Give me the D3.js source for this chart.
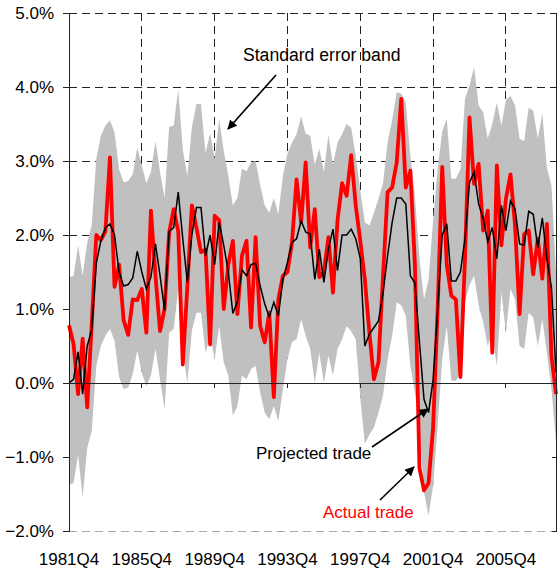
<!DOCTYPE html>
<html>
<head>
<meta charset="utf-8">
<script src="https://cdn.jsdelivr.net/npm/d3@7"></script>
<style>
  body { margin: 0; background: #fff; }
  svg { display: block; font-family: Arial, "Liberation Sans", sans-serif; }
</style>
</head>
<body>
<div id="viz"></div>
<script>
// Quarters 1981Q4 .. 2008Q3 (108 categories)
const quarters = [];
for (let y = 1981, q = 4; quarters.length < 108; ) {
    quarters.push(y + 'Q' + q);
    q++; if (q > 4) { q = 1; y++; }
}

const tickLabels = ['1981Q4', '1985Q4', '1989Q4', '1993Q4', '1997Q4', '2001Q4', '2005Q4'];
const yTicks = [-2, -1, 0, 1, 2, 3, 4, 5];

// Actual trade (red)
const actual = [0.78, 0.53, -0.15, 0.6, -0.33, 0.8, 2.0, 1.93, 2.05, 3.05,
    1.3, 1.6, 0.85, 0.65, 1.13, 1.12, 1.27, 0.68, 2.33, 1.45,
    0.7, 1.0, 2.03, 2.35, 2.05, 0.25, 1.3, 2.4, 2.1, 1.77,
    1.8, 0.52, 2.26, 2.2, 1.0, 1.6, 1.92, 0.93, 1.72, 1.92,
    0.75, 1.97, 0.77, 0.55, 0.95, -0.19, 1.13, 1.45, 1.5, 1.9,
    2.75, 2.17, 2.98, 1.83, 2.35, 1.43, 1.5, 1.97, 1.22, 2.2,
    2.7, 2.53, 3.08, 2.4, 1.92, 1.4, 0.68, 0.05, 0.28, 1.45,
    2.58, 2.64, 2.98, 3.84, 2.64, 2.87, 1.6, -1.15, -1.45, -1.35,
    -0.6, 1.0, 2.92, 1.6, 1.18, 1.13, 0.08, 1.68, 3.59, 2.69,
    2.96, 2.06, 2.33, 0.41, 2.94, 1.86, 2.49, 2.82, 2.13, 0.93,
    2.01, 2.06, 1.47, 1.95, 1.41, 2.15, 0.37, -0.15];

// Projected trade (black)
const projected = [0.0, 0.05, 0.42, -0.15, 0.5, 0.72, 1.62, 1.92, 2.1, 2.15,
    2.0, 1.5, 1.31, 1.33, 1.42, 1.78, 1.5, 1.27, 1.43, 1.88,
    1.45, 0.98, 2.05, 2.1, 2.58, 1.95, 1.36, 2.0, 2.37, 2.37,
    1.72, 2.0, 1.6, 2.17, 1.86, 1.5, 0.94, 1.1, 1.53, 1.45,
    1.6, 1.62, 1.31, 1.07, 0.89, 1.09, 0.91, 1.4, 1.63, 1.9,
    1.95, 2.19, 2.04, 2.01, 1.4, 1.81, 1.36, 1.81, 2.08, 1.52,
    2.0, 2.0, 2.08, 1.95, 1.68, 0.5, 0.66, 0.75, 0.84, 1.22,
    1.72, 2.17, 2.5, 2.5, 2.42, 1.45, 1.35, 0.55, -0.22, -0.4,
    0.05, 1.0, 2.0, 2.15, 1.38, 1.38, 1.5, 1.95, 2.71, 2.85,
    2.42, 2.22, 1.91, 2.1, 1.68, 2.4, 2.06, 2.46, 2.35, 1.88,
    1.86, 2.32, 2.28, 1.83, 2.23, 1.68, 1.29, 0.14];

// Standard error band, upper edge
const bandUpper = [1.43, 1.45, 1.86, 1.45, 1.9, 2.13, 3.03, 3.34, 3.48, 3.55,
    3.39, 2.89, 2.71, 2.73, 2.82, 3.18, 2.94, 2.7, 2.85, 3.27,
    2.85, 2.5, 3.46, 3.48, 3.97, 3.16, 2.8, 3.46, 3.77, 3.77,
    3.1, 3.38, 3.03, 3.56, 3.14, 2.8, 2.4, 2.5, 2.9, 2.86,
    2.98, 3.0, 2.68, 2.4, 2.3, 2.5, 2.28, 2.8, 3.1, 3.25,
    3.36, 3.6, 3.37, 3.34, 2.95, 3.17, 2.85, 3.35, 2.95, 3.25,
    3.36, 3.5, 3.45, 3.07, 2.6, 2.17, 2.13, 2.3, 2.49, 2.7,
    3.25, 3.55, 3.93, 3.91, 3.79, 3.07, 2.53, 1.68, 1.13, 1.4,
    2.2, 2.9, 3.4, 3.57, 2.76, 2.76, 2.89, 3.84, 4.02, 4.27,
    3.75, 3.66, 3.3, 3.5, 3.79, 3.48, 3.82, 3.88, 3.75, 3.3,
    3.27, 3.72, 3.68, 3.3, 3.64, 2.91, 2.67, 1.5];

// Standard error band, lower edge
const bandLower = [-1.38, -1.35, -0.97, -1.54, -0.88, -0.65, 0.23, 0.5, 0.64, 0.73,
    0.57, 0.08, -0.08, -0.06, 0.12, 0.44, 0.14, -0.04, 0.1, 0.46,
    0.05, -0.35, 0.68, 0.73, 1.27, 0.46, 0.0, 0.71, 0.95, 0.95,
    0.41, 0.64, 0.32, 0.77, 0.28, 0.1, -0.44, -0.31, 0.1, 0.05,
    0.19, 0.23, -0.13, -0.4, -0.49, -0.31, -0.51, -0.08, 0.32, 0.55,
    0.59, 0.86, 0.64, 0.46, 0.0, 0.41, 0.0, 0.37, 0.1, 0.46,
    0.59, 0.77, 0.7, 0.59, -0.2, -0.82, -0.7, -0.6, -0.4, -0.17,
    0.32, 0.64, 1.09, 1.05, 0.91, 0.23, -0.13, -0.6, -1.48, -1.79,
    -1.39, -0.58, 0.32, 0.77, 0.03, 0.03, 0.14, 1.09, 1.32, 1.45,
    1.05, 0.82, 0.5, 0.68, 0.23, 1.23, 0.68, 1.27, 1.13, 0.5,
    0.46, 0.95, 0.89, 0.5, 0.86, 0.41, -0.08, -0.8];

const W = 560, H = 568;
const margin = {top: 13, right: 4, bottom: 37, left: 69};

const svg = d3.select('#viz').append('svg')
    .attr('width', W).attr('height', H);

const x = d3.scalePoint()
    .domain(quarters)
    .range([margin.left, W - margin.right]);

const y = d3.scaleLinear()
    .domain([-2, 5])
    .range([H - margin.bottom, margin.top]);

const x0 = x.range()[0], x1 = x.range()[1];

//Gridlines
svg.append('g').attr('shape-rendering', 'crispEdges')
    .selectAll('line')
    .data(yTicks.filter(d => d > 0))
    .enter().append('line')
    .attr('x1', x0).attr('x2', x1)
    .attr('y1', d => y(d)).attr('y2', d => y(d))
    .attr('stroke', '#222').attr('stroke-dasharray', '8,5');

svg.append('g').attr('shape-rendering', 'crispEdges')
    .selectAll('line')
    .data(tickLabels.slice(1))
    .enter().append('line')
    .attr('x1', d => x(d)).attr('x2', d => x(d))
    .attr('y1', y(5)).attr('y2', y(-2))
    .attr('stroke', '#222').attr('stroke-dasharray', '8,5');

//Band: white underneath the lower edge hides the grid, grey between edges
svg.append('path')
    .datum(quarters)
    .attr('fill', '#fff')
    .attr('d', d3.area()
        .x(d => x(d))
        .y0(y(-2))
        .y1((d, i) => y(bandLower[i])));

svg.append('path')
    .datum(quarters)
    .attr('fill', '#c0c0c0')
    .attr('d', d3.area()
        .x(d => x(d))
        .y0((d, i) => y(bandLower[i]))
        .y1((d, i) => y(bandUpper[i])));

svg.append('line')
    .attr('shape-rendering', 'crispEdges')
    .attr('x1', x0).attr('x2', x1)
    .attr('y1', y(-2)).attr('y2', y(-2))
    .attr('stroke', '#aaa').attr('stroke-dasharray', '8,5');

//Lines
const line = arr => d3.line()
    .x(d => x(d))
    .y((d, i) => y(arr[i]));

svg.append('path')
    .datum(quarters)
    .attr('fill', 'none')
    .attr('stroke', '#ff0000')
    .attr('stroke-width', 3.8)
    .attr('stroke-linejoin', 'round')
    .attr('d', line(actual));

svg.append('path')
    .datum(quarters)
    .attr('fill', 'none')
    .attr('stroke', '#000')
    .attr('stroke-width', 1.5)
    .attr('d', line(projected));

//Axes
svg.append('line')
    .attr('shape-rendering', 'crispEdges')
    .attr('x1', x0).attr('x2', x1)
    .attr('y1', y(0)).attr('y2', y(0))
    .attr('stroke', '#222');

svg.append('g').attr('shape-rendering', 'crispEdges')
    .selectAll('line')
    .data(tickLabels)
    .enter().append('line')
    .attr('x1', d => x(d)).attr('x2', d => x(d))
    .attr('y1', y(0)).attr('y2', y(0) + 5)
    .attr('stroke', '#222');

const yAxis = svg.append('g')
    .attr('transform', 'translate(' + x0 + ',0)')
    .attr('shape-rendering', 'crispEdges')
    .call(d3.axisLeft(y).tickValues(yTicks).tickSize(6).tickPadding(9)
        .tickFormat(d => d3.format('.1f')(d) + '%'));
yAxis.select('.domain').attr('stroke', '#222');
yAxis.selectAll('.tick line').attr('stroke', '#222');
yAxis.selectAll('text')
    .attr('font-size', 17)
    .attr('font-family', 'Arial, "Liberation Sans", sans-serif')
    .attr('fill', '#000');

const rAxis = svg.append('g')
    .attr('transform', 'translate(' + x1 + ',0)')
    .attr('shape-rendering', 'crispEdges')
    .call(d3.axisLeft(y).tickValues(yTicks).tickSize(4).tickFormat(''));
rAxis.select('.domain').attr('stroke', '#222');
rAxis.selectAll('.tick line').attr('stroke', '#222');

svg.append('g').selectAll('text')
    .data(tickLabels)
    .enter().append('text')
    .attr('x', d => x(d))
    .attr('y', 565)
    .attr('text-anchor', 'middle')
    .attr('font-size', 17)
    .text(d => d);

//Annotations
svg.append('defs').append('marker')
    .attr('id', 'arrow')
    .attr('viewBox', '0 0 10 10')
    .attr('refX', 9).attr('refY', 5)
    .attr('markerWidth', 6).attr('markerHeight', 6)
    .attr('markerUnits', 'strokeWidth')
    .attr('orient', 'auto')
    .append('path')
    .attr('d', 'M0,0 L10,5 L0,10 z')
    .attr('fill', '#000');

const notes = [
    {text: 'Standard error band', color: '#000', tx: 243, ty: 61, size: 17.6, from: [276, 75], to: [228, 129]},
    {text: 'Projected trade', color: '#000', tx: 256, ty: 459, size: 17, from: [372, 447], to: [428, 409]},
    {text: 'Actual trade', color: '#ff0000', tx: 323, ty: 518, size: 17, from: [380, 500], to: [414, 467]}
];

notes.forEach(function(n) {
    svg.append('text')
        .attr('x', n.tx).attr('y', n.ty)
        .attr('font-size', n.size)
        .attr('fill', n.color)
        .text(n.text);
    svg.append('line')
        .attr('x1', n.from[0]).attr('y1', n.from[1])
        .attr('x2', n.to[0]).attr('y2', n.to[1])
        .attr('stroke', '#000').attr('stroke-width', 1.6)
        .attr('marker-end', 'url(#arrow)');
});
</script>
</body>
</html>
